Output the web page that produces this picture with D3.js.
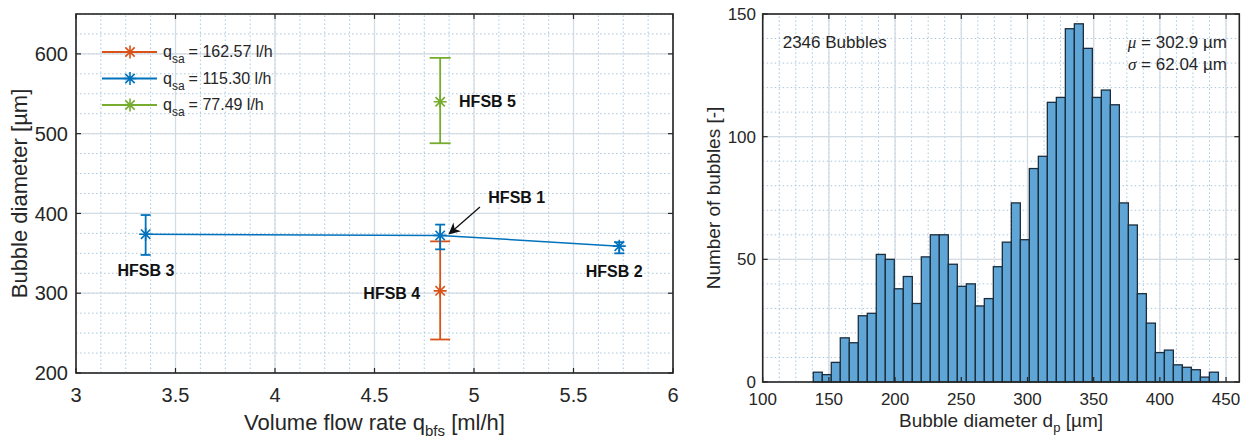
<!DOCTYPE html>
<html>
<head>
<meta charset="utf-8">
<script src="https://cdn.jsdelivr.net/npm/d3@7"></script>
<style>
  body { margin: 0; background: #fff; }
  text { font-family: "Liberation Sans", Arial, Helvetica, sans-serif; fill: #262626; }
</style>
</head>
<body>
<svg id="chart" width="1242" height="439"></svg>
<script>
// ---- left panel: bubble diameter vs volume flow rate ----
var seriesLabels = ["162.57", "115.30", "77.49"];
var seriesColors = ["#d95319", "#0072bd", "#77ac30"];

var orangeX = [4.83], orangeY = [303], orangeLo = [242], orangeHi = [365];
var blueX = [3.35, 4.83, 5.73], blueY = [374, 372.5, 359], blueLo = [348, 355, 350], blueHi = [398, 386, 364];
var greenX = [4.83], greenY = [540], greenLo = [488], greenHi = [595];

var leftXTicks = [3, 3.5, 4, 4.5, 5, 5.5, 6];
var leftYTicks = [200, 300, 400, 500, 600];

// point labels, anchored in data units
var pointLabels = ["HFSB 1", "HFSB 2", "HFSB 3", "HFSB 4", "HFSB 5"];
var labelX = [5.072, 5.561, 3.208, 4.444, 4.925];
var labelY = [412.5, 320.4, 321, 292.5, 533];
var arrowFrom = [5.03, 408], arrowTo = [4.876, 374.6];

// ---- right panel: histogram ----
var binStart = 138.2, binWidth = 6.8;
var binCounts = [4, 3, 8, 18, 16, 27, 28, 52, 50, 38, 43, 32, 51, 60, 60,
                 48, 39, 40, 31, 34, 47, 57, 73, 58, 87, 92, 114, 116, 144, 146, 136,
                 116, 119, 113, 73, 64, 36, 24, 12, 13, 7, 6, 5, 2, 4];
var rightXTicks = [100, 150, 200, 250, 300, 350, 400, 450];
var rightYTicks = [0, 50, 100, 150];

var svg = d3.select("#chart");

var xL = d3.scaleLinear().domain([3, 6]).range([76, 673]);
var yL = d3.scaleLinear().domain([200, 650]).range([373, 14]);
var xR = d3.scaleLinear().domain([100, 460]).range([762.7, 1239.3]);
var yR = d3.scaleLinear().domain([0, 150]).range([382, 14]);

function drawGrid(g, x, y, xMinor, yMinor, xMajor, yMajor) {
  var x0 = x.range()[0], x1 = x.range()[1], y0 = y.range()[0], y1 = y.range()[1];
  g.append("rect").attr("x", x0).attr("y", y1).attr("width", x1 - x0).attr("height", y0 - y1).attr("fill", "#fff");
  g.selectAll(".mx").data(xMinor).enter().append("line")
    .attr("x1", function(d) { return x(d); }).attr("x2", function(d) { return x(d); })
    .attr("y1", y0).attr("y2", y1)
    .attr("stroke", "#a9c7de").attr("stroke-width", 1).attr("stroke-dasharray", "1.5,2.5");
  g.selectAll(".my").data(yMinor).enter().append("line")
    .attr("y1", function(d) { return y(d); }).attr("y2", function(d) { return y(d); })
    .attr("x1", x0).attr("x2", x1)
    .attr("stroke", "#a9c7de").attr("stroke-width", 1).attr("stroke-dasharray", "1.5,2.5");
  g.selectAll(".gx").data(xMajor).enter().append("line")
    .attr("x1", function(d) { return x(d); }).attr("x2", function(d) { return x(d); })
    .attr("y1", y0).attr("y2", y1)
    .attr("stroke", "#d3dbe3").attr("stroke-width", 1.3);
  g.selectAll(".gy").data(yMajor).enter().append("line")
    .attr("y1", function(d) { return y(d); }).attr("y2", function(d) { return y(d); })
    .attr("x1", x0).attr("x2", x1)
    .attr("stroke", "#d3dbe3").attr("stroke-width", 1.3);
}

function drawBox(g, x, y, xTicks, yTicks, fs, xLabY, yLabX) {
  var x0 = x.range()[0], x1 = x.range()[1], y0 = y.range()[0], y1 = y.range()[1];
  var tl = 5;
  // inward ticks on all four sides
  xTicks.forEach(function(t) {
    g.append("line").attr("x1", x(t)).attr("x2", x(t)).attr("y1", y0).attr("y2", y0 - tl).attr("stroke", "#262626").attr("stroke-width", 1.2);
    g.append("line").attr("x1", x(t)).attr("x2", x(t)).attr("y1", y1).attr("y2", y1 + tl).attr("stroke", "#262626").attr("stroke-width", 1.2);
    g.append("text").attr("x", x(t)).attr("y", xLabY).attr("text-anchor", "middle")
      .style("font-size", fs + "px").text(t);
  });
  yTicks.forEach(function(t) {
    g.append("line").attr("y1", y(t)).attr("y2", y(t)).attr("x1", x0).attr("x2", x0 + tl).attr("stroke", "#262626").attr("stroke-width", 1.2);
    g.append("line").attr("y1", y(t)).attr("y2", y(t)).attr("x1", x1).attr("x2", x1 - tl).attr("stroke", "#262626").attr("stroke-width", 1.2);
    g.append("text").attr("x", yLabX).attr("y", y(t) + fs * 0.36).attr("text-anchor", "end")
      .style("font-size", fs + "px").text(t);
  });
  g.append("rect").attr("x", x0).attr("y", y1).attr("width", x1 - x0).attr("height", y0 - y1)
    .attr("fill", "none").attr("stroke", "#262626").attr("stroke-width", 1.6);
}

function star(g, cx, cy, r, color) {
  var k = r * 0.72;
  g.append("path")
    .attr("d", "M" + (cx - r) + "," + cy + "H" + (cx + r) +
               "M" + cx + "," + (cy - r) + "V" + (cy + r) +
               "M" + (cx - k) + "," + (cy - k) + "L" + (cx + k) + "," + (cy + k) +
               "M" + (cx - k) + "," + (cy + k) + "L" + (cx + k) + "," + (cy - k))
    .attr("stroke", color).attr("stroke-width", 1.6).attr("fill", "none");
}

function errorSeries(g, xs, ys, lo, hi, color, cap, withLine) {
  if (withLine) {
    var line = d3.line().x(function(d) { return xL(d[0]); }).y(function(d) { return yL(d[1]); });
    g.append("path").datum(xs.map(function(v, i) { return [v, ys[i]]; }))
      .attr("d", line).attr("fill", "none").attr("stroke", color).attr("stroke-width", 1.5);
  }
  xs.forEach(function(v, i) {
    var cx = xL(v);
    g.append("line").attr("x1", cx).attr("x2", cx).attr("y1", yL(lo[i])).attr("y2", yL(hi[i]))
      .attr("stroke", color).attr("stroke-width", 1.8);
    [lo[i], hi[i]].forEach(function(e) {
      g.append("line").attr("x1", cx - cap / 2).attr("x2", cx + cap / 2).attr("y1", yL(e)).attr("y2", yL(e))
        .attr("stroke", color).attr("stroke-width", 1.8);
    });
    star(g, cx, yL(ys[i]), 6.5, color);
  });
}

// ---------- left panel ----------
var gL = svg.append("g");
drawGrid(gL, xL, yL, d3.range(3, 6.001, 0.125), d3.range(200, 650.1, 25), leftXTicks, leftYTicks);

errorSeries(gL, orangeX, orangeY, orangeLo, orangeHi, seriesColors[0], 20, false);
errorSeries(gL, blueX, blueY, blueLo, blueHi, seriesColors[1], 10, true);
errorSeries(gL, greenX, greenY, greenLo, greenHi, seriesColors[2], 21, false);

// legend (no box)
seriesLabels.forEach(function(lab, i) {
  var ly = 52 + i * 26.5;
  gL.append("line").attr("x1", 102).attr("x2", 157).attr("y1", ly).attr("y2", ly)
    .attr("stroke", seriesColors[i]).attr("stroke-width", 1.8);
  star(gL, 130, ly, 6.5, seriesColors[i]);
  var t = gL.append("text").attr("x", 163).attr("y", ly + 5).style("font-size", "16px");
  t.append("tspan").text("q");
  t.append("tspan").attr("dy", 6).style("font-size", "12px").text("sa");
  t.append("tspan").attr("dy", -6).attr("dx", 4).text("= " + lab + " l/h");
});

// point labels
pointLabels.forEach(function(lab, i) {
  gL.append("text").attr("x", xL(labelX[i])).attr("y", yL(labelY[i]))
    .style("font-size", "16px").style("font-weight", "bold").style("fill", "#111").text(lab);
});

// arrow for HFSB 1
svg.append("defs").append("marker").attr("id", "ah")
  .attr("viewBox", "0 0 10 10").attr("refX", 9).attr("refY", 5)
  .attr("markerWidth", 9).attr("markerHeight", 9).attr("orient", "auto")
  .append("path").attr("d", "M0,0 L10,5 L0,10 L3,5 Z").attr("fill", "#111");
gL.append("line")
  .attr("x1", xL(arrowFrom[0])).attr("y1", yL(arrowFrom[1]))
  .attr("x2", xL(arrowTo[0])).attr("y2", yL(arrowTo[1]))
  .attr("stroke", "#111").attr("stroke-width", 1.3).attr("marker-end", "url(#ah)");

drawBox(gL, xL, yL, leftXTicks, leftYTicks, 20, 402, 68);

var xt = gL.append("text").attr("x", (76 + 673) / 2).attr("y", 430).attr("text-anchor", "middle").style("font-size", "22px");
xt.append("tspan").text("Volume flow rate q");
xt.append("tspan").attr("dy", 6).style("font-size", "15px").text("bfs");
xt.append("tspan").attr("dy", -6).text(" [ml/h]");

gL.append("text").attr("transform", "translate(27," + (14 + 373) / 2 + ") rotate(-90)")
  .attr("text-anchor", "middle").style("font-size", "22px").text("Bubble diameter [µm]");

// ---------- right panel ----------
var gR = svg.append("g");
drawGrid(gR, xR, yR, d3.range(100, 460.1, 12.5), d3.range(0, 150.1, 10), rightXTicks, rightYTicks);

gR.selectAll(".bar").data(binCounts).enter().append("rect")
  .attr("x", function(d, i) { return xR(binStart + i * binWidth); })
  .attr("width", function(d, i) { return xR(binStart + (i + 1) * binWidth) - xR(binStart + i * binWidth); })
  .attr("y", function(d) { return yR(d); })
  .attr("height", function(d) { return yR(0) - yR(d); })
  .attr("fill", "#5fa6d6").attr("stroke", "#1b2d3d").attr("stroke-width", 1.3);

drawBox(gR, xR, yR, rightXTicks, rightYTicks, 17, 405, 756);

gR.append("text").attr("x", 782.7).attr("y", 48).style("font-size", "17px").text("2346 Bubbles");
var mu = gR.append("text").attr("x", 1227).attr("y", 48).attr("text-anchor", "end").style("font-size", "17px");
mu.append("tspan").style("font-family", "'Liberation Serif', serif").style("font-style", "italic").text("μ");
mu.append("tspan").text(" = 302.9 µm");
var sg = gR.append("text").attr("x", 1227).attr("y", 70).attr("text-anchor", "end").style("font-size", "17px");
sg.append("tspan").style("font-family", "'Liberation Serif', serif").style("font-style", "italic").text("σ");
sg.append("tspan").text(" = 62.04 µm");

var xr = gR.append("text").attr("x", (762.7 + 1239.3) / 2).attr("y", 427).attr("text-anchor", "middle").style("font-size", "19px");
xr.append("tspan").text("Bubble diameter d");
xr.append("tspan").attr("dy", 5).style("font-size", "13px").text("p");
xr.append("tspan").attr("dy", -5).text(" [µm]");

gR.append("text").attr("transform", "translate(720," + (14 + 382) / 2 + ") rotate(-90)")
  .attr("text-anchor", "middle").style("font-size", "19px").text("Number of bubbles [-]");
</script>
</body>
</html>
